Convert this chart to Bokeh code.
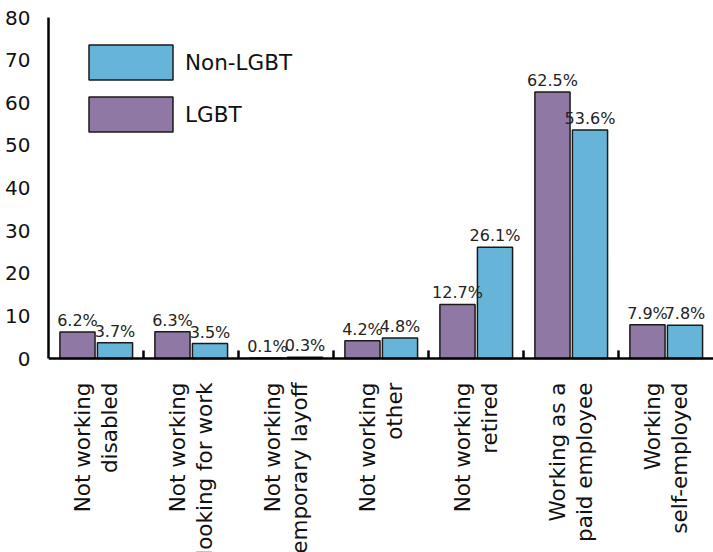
import math
from bokeh.plotting import figure
from bokeh.models import (ColumnDataSource, FactorRange, Range1d, Legend, LegendItem,
                          FixedTicker, Span)
from bokeh.transform import dodge
from bokeh.core.properties import value
from bokeh.embed import file_html
from bokeh.resources import INLINE

categories = ["Not working\ndisabled", "Not working\nlooking for work",
              "Not working\ntemporary layoff", "Not working\nother",
              "Not working\nretired", "Working as a\npaid employee",
              "Working\nself-employed"]
lgbt = [6.2, 6.3, 0.1, 4.2, 12.7, 62.5, 7.9]
non_lgbt = [3.7, 3.5, 0.3, 4.8, 26.1, 53.6, 7.8]
y_ticks = [0, 10, 20, 30, 40, 50, 60, 70, 80]

FONT = "DejaVu Sans"
PURPLE = "#8F78A3"
BLUE = "#66B5D8"
EDGE = "#1a1a1a"

src = ColumnDataSource(dict(
    cat=categories, lgbt=lgbt, non=non_lgbt, zero=[0] * len(categories),
    lgbt_lbl=[f"{v}%" for v in lgbt], non_lbl=[f"{v}%" for v in non_lgbt],
))
bsrc = ColumnDataSource(dict(cat=categories[:-1], y0=[0] * 6, y1=[1.9] * 6))

# the frame extends below zero so the rotated category labels can be drawn inside it
p = figure(x_range=FactorRange(*categories), y_range=Range1d(-45.5, 80),
           frame_width=665, frame_height=535,
           min_border_left=48, min_border_right=0, min_border_top=17, min_border_bottom=0,
           output_backend="svg", toolbar_location=None)
p.outline_line_color = None
p.grid.grid_line_color = None
p.background_fill_color = "white"
p.xaxis.visible = False

r_l = p.vbar(x=dodge("cat", -0.195, range=p.x_range), top="lgbt", width=0.37, source=src,
             fill_color=PURPLE, line_color=EDGE, line_width=1.5)
r_n = p.vbar(x=dodge("cat", 0.2, range=p.x_range), top="non", width=0.37, source=src,
             fill_color=BLUE, line_color=EDGE, line_width=1.5)

p.text(x=dodge("cat", -0.195, range=p.x_range), y="lgbt", text="lgbt_lbl", source=src,
       text_align="center", text_baseline="bottom", y_offset=-2,
       text_font=value(FONT), text_font_size="16px", text_color="#222222")
p.text(x=dodge("cat", 0.2, range=p.x_range), y="non", text="non_lbl", source=src,
       text_align="center", text_baseline="bottom", y_offset=-2,
       text_font=value(FONT), text_font_size="16px", text_color="#222222")

# x axis line and the group-boundary ticks
p.add_layout(Span(location=0, dimension="width", line_color="black", line_width=2.5))
p.segment(x0=dodge("cat", 0.5, range=p.x_range), y0="y0",
          x1=dodge("cat", 0.5, range=p.x_range), y1="y1", source=bsrc,
          line_color="black", line_width=2.5)

# category labels, rotated, lines right-aligned
p.text(x="cat", y="zero", text="cat", source=src, angle=math.pi / 2,
       text_align="right", text_baseline="middle", y_offset=24,
       text_font=value(FONT), text_font_size="21.5px", text_color="#111111",
       text_line_height=1.08)

p.yaxis.ticker = FixedTicker(ticks=y_ticks)
p.yaxis.bounds = (0, 80)
p.yaxis.major_tick_line_color = None
p.yaxis.minor_tick_line_color = None
p.yaxis.axis_line_width = 2.5
p.yaxis.axis_line_color = "black"
p.yaxis.major_label_standoff = 12
p.yaxis.major_label_text_font = FONT
p.yaxis.major_label_text_font_size = "20px"
p.yaxis.major_label_text_color = "#111111"

legend = Legend(items=[LegendItem(label="Non-LGBT", renderers=[r_n]),
                       LegendItem(label="LGBT", renderers=[r_l])],
                location=(30, 416), orientation="vertical",
                glyph_width=105, glyph_height=44, spacing=8, padding=0, margin=0,
                label_standoff=2, border_line_color=None, background_fill_alpha=0,
                label_text_font=FONT, label_text_font_size="21.5px",
                label_text_color="#111111")
p.add_layout(legend)

open("out.html", "w").write(file_html(p, INLINE))
